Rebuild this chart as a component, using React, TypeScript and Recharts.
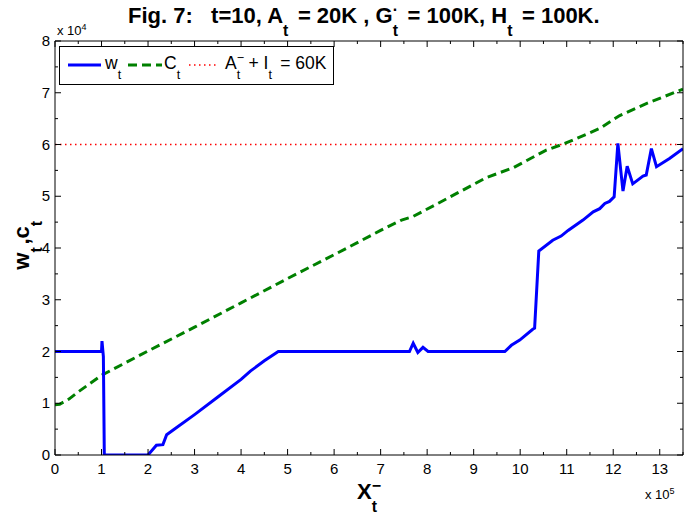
import React from 'react';
import { LineChart, Line, XAxis, YAxis } from 'recharts';

// x in units of 1e5, y in units of 1e4 (as on the axes)
const wX = [0, 1.0, 1.01, 1.04, 1.06, 2.0, 2.18, 2.32, 2.4, 2.6, 3.0, 3.5, 4.0, 4.2, 4.5, 4.8, 7.62, 7.7, 7.8, 7.91, 8.02, 9.67, 9.81, 9.99, 10.27, 10.31, 10.4, 10.7, 10.88, 11.03, 11.35, 11.57, 11.71, 11.82, 11.92, 12.02, 12.1, 12.21, 12.3, 12.42, 12.64, 12.71, 12.82, 12.93, 13.21, 13.5];
const wY = [2.0, 2.0, 2.2, 1.9, 0, 0, 0.19, 0.2, 0.39, 0.52, 0.78, 1.12, 1.46, 1.62, 1.82, 2.0, 2.0, 2.16, 1.98, 2.08, 2.0, 2.0, 2.12, 2.22, 2.43, 2.45, 3.94, 4.15, 4.23, 4.34, 4.54, 4.7, 4.76, 4.86, 4.9, 4.99, 6.02, 5.1, 5.58, 5.24, 5.39, 5.41, 5.92, 5.57, 5.73, 5.92];

const cX = [0, 0.1, 0.3, 0.5, 1.0, 2.0, 3.0, 4.0, 5.0, 6.0, 7.0, 7.45, 7.7, 8.27, 9.27, 9.85, 10.35, 10.56, 10.96, 11.71, 12.14, 12.71, 13.5];
const cY = [0.97, 0.98, 1.08, 1.22, 1.54, 2.01, 2.47, 2.94, 3.41, 3.87, 4.34, 4.54, 4.61, 4.88, 5.36, 5.55, 5.79, 5.89, 6.02, 6.31, 6.56, 6.79, 7.07];

const rX = [0, 13.5];
const rY = [6, 6];

const xTicks = [0, 0.5, 1, 1.5, 2, 2.5, 3, 3.5, 4, 4.5, 5, 5.5, 6, 6.5, 7, 7.5, 8, 8.5, 9, 9.5, 10, 10.5, 11, 11.5, 12, 12.5, 13, 13.5];
const yTicks = [0, 0.5, 1, 1.5, 2, 2.5, 3, 3.5, 4, 4.5, 5, 5.5, 6, 6.5, 7, 7.5, 8];

const toRows = (xs: number[], ys: number[]) => xs.map((x, i) => ({ x, y: ys[i] }));
const wData = toRows(wX, wY);
const cData = toRows(cX, cY);
const rData = toRows(rX, rY);

const FONT = '"Liberation Sans", Arial, Helvetica, sans-serif';
const isMajor = (v: number) => Number.isInteger(v);

const BottomTick = (p: any) => {
  const v = p.payload.value;
  return (
    <g>
      <line x1={p.x} x2={p.x} y1={p.y} y2={p.y - (isMajor(v) ? 6 : 3)} stroke="#000" />
      {isMajor(v) && v <= 13 && (
        <text x={p.x} y={p.y + 19} textAnchor="middle" fontSize={15} fontFamily={FONT} fill="#000">{v}</text>
      )}
    </g>
  );
};
const TopTick = (p: any) => {
  const v = p.payload.value;
  return <line x1={p.x} x2={p.x} y1={p.y} y2={p.y + (isMajor(v) ? 6 : 3)} stroke="#000" />;
};
const LeftTick = (p: any) => {
  const v = p.payload.value;
  return (
    <g>
      <line x1={p.x} x2={p.x + (isMajor(v) ? 6 : 3)} y1={p.y} y2={p.y} stroke="#000" />
      {isMajor(v) && (
        <text x={p.x - 5} y={p.y + 5} textAnchor="end" fontSize={15} fontFamily={FONT} fill="#000">{v}</text>
      )}
    </g>
  );
};
const RightTick = (p: any) => {
  const v = p.payload.value;
  return <line x1={p.x} x2={p.x - (isMajor(v) ? 6 : 3)} y1={p.y} y2={p.y} stroke="#000" />;
};

// stacked super/subscript, anchored on the baseline
const Idx = ({ sub, sup, w = 0.55 }: { sub?: string; sup?: string; w?: number }) => (
  <span style={{ position: 'relative', display: 'inline-block', width: `${w}em`, height: 0, fontSize: '0.72em', lineHeight: 1 }}>
    {sup && <span style={{ position: 'absolute', left: 0, top: '-1.35em' }}>{sup}</span>}
    {sub && <span style={{ position: 'absolute', left: 0, top: '0.0em' }}>{sub}</span>}
  </span>
);

export default function App() {
  return (
    <div style={{ position: 'absolute', left: 0, top: 0, width: 685, height: 514, background: '#fff', fontFamily: FONT, color: '#000' }}>
      <LineChart width={685} height={514} margin={{ top: 40, right: 1, bottom: 29, left: 25 }}>
        <XAxis xAxisId={0} dataKey="x" type="number" domain={[0, 13.5]} ticks={xTicks} interval={0}
          allowDataOverflow tickSize={0} tickMargin={0} tickLine={false} tick={BottomTick} height={30}
          axisLine={{ stroke: '#000' }} />
        <XAxis xAxisId="top" orientation="top" dataKey="x" type="number" domain={[0, 13.5]} ticks={xTicks} interval={0}
          allowDataOverflow tickSize={0} tickMargin={0} tickLine={false} tick={TopTick} height={1}
          axisLine={{ stroke: '#000' }} />
        <YAxis yAxisId={0} type="number" domain={[0, 8]} ticks={yTicks} interval={0}
          allowDataOverflow tickSize={0} tickMargin={0} tickLine={false} tick={LeftTick} width={30}
          axisLine={{ stroke: '#000' }} />
        <YAxis yAxisId="right" orientation="right" type="number" domain={[0, 8]} ticks={yTicks} interval={0}
          allowDataOverflow tickSize={0} tickMargin={0} tickLine={false} tick={RightTick} width={1}
          axisLine={{ stroke: '#000' }} />
        <Line data={rData} dataKey="y" type="linear" stroke="#ff0000" strokeWidth={1.3}
          strokeDasharray="1.5 3.5" dot={false} isAnimationActive={false} />
        <Line data={cData} dataKey="y" type="linear" stroke="#008000" strokeWidth={3}
          strokeDasharray="9 5" dot={false} isAnimationActive={false} />
        <Line data={wData} dataKey="y" type="linear" stroke="#0000ff" strokeWidth={3}
          dot={false} isAnimationActive={false} />
      </LineChart>

      {/* title */}
      <div style={{ position: 'absolute', left: 128, top: 4, fontSize: 22, lineHeight: '24px', fontWeight: 'bold', whiteSpace: 'pre' }}>
        Fig. 7:   t=10, A<Idx sub="t" /> = 20K , G<Idx sub="t" sup="·" /> = 100K, H<Idx sub="t" /> = 100K.
      </div>

      {/* axis multipliers */}
      <div style={{ position: 'absolute', left: 57, top: 22, fontSize: 13, whiteSpace: 'pre' }}>
        x 10<sup style={{ fontSize: 9, verticalAlign: 5 }}>4</sup>
      </div>
      <div style={{ position: 'absolute', left: 645, top: 486, fontSize: 13, whiteSpace: 'pre' }}>
        x 10<sup style={{ fontSize: 9, verticalAlign: 5 }}>5</sup>
      </div>

      {/* axis labels */}
      <div style={{ position: 'absolute', left: 357, top: 480, fontSize: 22, lineHeight: '24px', fontWeight: 'bold', whiteSpace: 'pre' }}>
        X<Idx sub="t" sup="−" />
      </div>
      <div style={{ position: 'absolute', left: 22, top: 244, fontSize: 22, lineHeight: '24px', fontWeight: 'bold', whiteSpace: 'pre',
        transform: 'translate(-50%, -50%) rotate(-90deg)' }}>
        w<Idx sub="t" w={0.5} />,c<Idx sub="t" w={0.5} />
      </div>

      {/* legend */}
      <div style={{ position: 'absolute', left: 59, top: 46, width: 273, height: 37, border: '1px solid #000',
        background: '#fff', fontSize: 17.5, lineHeight: '20px' }}>
        <svg width={273} height={37} style={{ position: 'absolute', left: 0, top: 0 }}>
          <line x1={8} x2={41} y1={18} y2={18} stroke="#0000ff" strokeWidth={3} />
          <line x1={68} x2={102} y1={18} y2={18} stroke="#008000" strokeWidth={3} strokeDasharray="9 5" />
          <line x1={129} x2={159} y1={18} y2={18} stroke="#ff0000" strokeWidth={1.3} strokeDasharray="1.5 3.5" />
        </svg>
        <div style={{ position: 'absolute', left: 45, top: 6, whiteSpace: 'pre' }}>w<Idx sub="t" /></div>
        <div style={{ position: 'absolute', left: 104, top: 6, whiteSpace: 'pre' }}>C<Idx sub="t" /></div>
        <div style={{ position: 'absolute', left: 165, top: 6, whiteSpace: 'pre' }}>
          A<Idx sub="t" sup="−" /> + I<Idx sub="t" /> = 60K
        </div>
      </div>
    </div>
  );
}
